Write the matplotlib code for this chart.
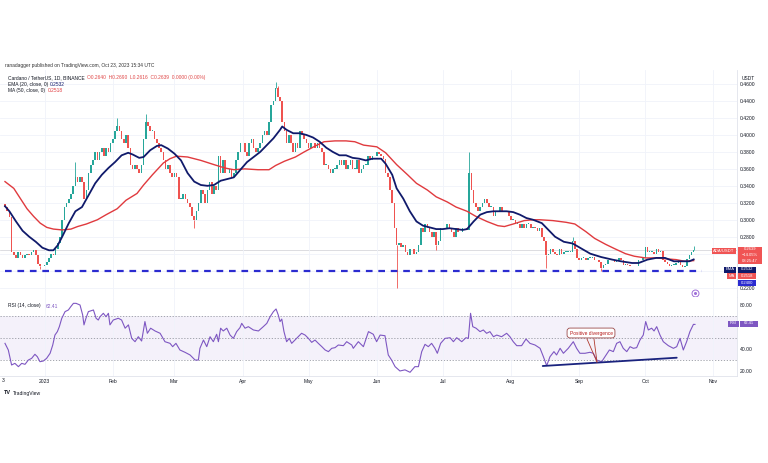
import numpy as np
import pandas as pd
import matplotlib
matplotlib.use("Agg")
import matplotlib.pyplot as plt
from matplotlib.patches import Rectangle
from matplotlib.lines import Line2D

plt.rcParams['font.family'] = ['Liberation Sans', 'DejaVu Sans']

# ---------------- data ----------------
start_date = "2022-12-14"
end_date = "2023-10-23"
first_open = 0.318

closes_dec = [0.315, 0.31, 0.303, 0.262, 0.258, 0.255, 0.262, 0.258, 0.255, 0.258,
              0.26, 0.258, 0.262, 0.264, 0.258, 0.248, 0.246, 0.245]
closes_jan = [0.247, 0.25, 0.255, 0.26, 0.258, 0.265, 0.272, 0.28, 0.30, 0.315,
              0.32, 0.325, 0.33, 0.34, 0.35, 0.345, 0.35, 0.345, 0.325, 0.335,
              0.355, 0.365, 0.37, 0.38, 0.37, 0.38, 0.385, 0.375, 0.385, 0.38, 0.39]
closes_feb = [0.395, 0.405, 0.41, 0.405, 0.395, 0.39, 0.40, 0.385, 0.365, 0.36,
              0.365, 0.36, 0.355, 0.365, 0.395, 0.415, 0.41, 0.405, 0.405, 0.395,
              0.39, 0.385, 0.38, 0.37, 0.36, 0.365, 0.355, 0.35]
closes_mar = [0.355, 0.35, 0.325, 0.325, 0.33, 0.325, 0.32, 0.315, 0.305, 0.30,
              0.31, 0.32, 0.335, 0.33, 0.32, 0.335, 0.345, 0.33, 0.34, 0.335,
              0.375, 0.355, 0.37, 0.355, 0.355, 0.36, 0.35, 0.355, 0.37, 0.38, 0.39]
closes_apr = [0.39, 0.38, 0.375, 0.39, 0.395, 0.385, 0.38, 0.385, 0.39, 0.40,
              0.405, 0.40, 0.415, 0.435, 0.44, 0.455, 0.445, 0.44, 0.415, 0.405,
              0.39, 0.40, 0.39, 0.38, 0.39, 0.385, 0.405, 0.40, 0.395, 0.39]
closes_may = [0.385, 0.39, 0.39, 0.385, 0.39, 0.385, 0.38, 0.365, 0.365, 0.36,
              0.355, 0.36, 0.36, 0.365, 0.37, 0.365, 0.37, 0.36, 0.365, 0.37,
              0.36, 0.36, 0.37, 0.355, 0.36, 0.365, 0.365, 0.375, 0.37, 0.375, 0.375]
closes_jun = [0.38, 0.378, 0.375, 0.372, 0.355, 0.35, 0.335, 0.32, 0.29, 0.27,
              0.272, 0.268, 0.27, 0.262, 0.258, 0.265, 0.265, 0.26, 0.262, 0.27,
              0.29, 0.285, 0.295, 0.29, 0.285, 0.28, 0.285, 0.27, 0.275, 0.29]
closes_jul = [0.29, 0.29, 0.295, 0.29, 0.285, 0.28, 0.29, 0.285, 0.285, 0.29,
              0.29, 0.288, 0.355, 0.335, 0.32, 0.315, 0.31, 0.315, 0.32, 0.325,
              0.32, 0.315, 0.315, 0.305, 0.31, 0.31, 0.315, 0.31, 0.31, 0.31, 0.305]
closes_aug = [0.30, 0.30, 0.295, 0.295, 0.29, 0.295, 0.29, 0.295, 0.295, 0.29,
              0.292, 0.29, 0.287, 0.29, 0.28, 0.275, 0.258, 0.26, 0.265, 0.262,
              0.26, 0.258, 0.265, 0.26, 0.262, 0.262, 0.262, 0.262, 0.275, 0.265, 0.255]
closes_sep = [0.252, 0.255, 0.255, 0.253, 0.255, 0.255, 0.256, 0.252, 0.252, 0.25,
              0.243, 0.247, 0.248, 0.252, 0.253, 0.252, 0.25, 0.253, 0.255, 0.253,
              0.247, 0.248, 0.247, 0.245, 0.246, 0.245, 0.246, 0.252, 0.253, 0.255]
closes_oct = [0.268, 0.262, 0.262, 0.262, 0.26, 0.265, 0.262, 0.263, 0.252, 0.25,
              0.248, 0.246, 0.247, 0.247, 0.249, 0.252, 0.247, 0.244, 0.246, 0.254,
              0.258, 0.262, 0.2639]

# notable wicks: date -> (high, low)
wicks = {
    "2022-12-30": (None, 0.242),
    "2023-01-15": (0.368, None),
    "2023-02-03": (0.42, None),
    "2023-02-16": (0.425, None),
    "2023-03-10": (None, 0.29),
    "2023-04-16": (0.462, None),
    "2023-04-17": (0.458, None),
    "2023-06-10": (None, 0.22),
    "2023-06-28": (None, 0.264),
    "2023-07-13": (0.38, None),
    "2023-08-17": (None, 0.243),
    "2023-08-29": (0.28, None),
    "2023-09-11": (None, 0.24),
    "2023-10-23": (0.269, 0.2616),
}

# EMA 20 readings (day offset from start, value)
ema_day = [0, 2, 5, 8, 11, 14, 17, 20, 22, 24, 26, 29, 32, 35, 38, 41, 44, 47, 50, 53,
           56, 58, 61, 63, 66, 69, 71, 74, 77, 80, 83, 86, 89, 92, 95, 98, 101, 104, 107, 110,
           113, 116, 119, 122, 125, 126, 128, 131, 134, 137, 140, 143, 146, 149, 152, 155, 158, 161, 164, 167,
           171, 173, 176, 178, 181, 184, 187, 190, 193, 196, 199, 202, 205, 208, 210, 213, 216, 219, 222, 225,
           228, 231, 234, 237, 240, 244, 247, 250, 254, 258, 262, 266, 271, 276, 280, 285, 288, 292, 296, 300,
           304, 309, 311, 313]
ema_val = [0.316, 0.31, 0.298, 0.287, 0.28, 0.274, 0.267, 0.264, 0.264, 0.27, 0.28, 0.296, 0.31, 0.315, 0.329, 0.343, 0.353, 0.361, 0.368, 0.376,
           0.379, 0.377, 0.373, 0.374, 0.382, 0.387, 0.388, 0.384, 0.378, 0.37, 0.355, 0.345, 0.341, 0.34, 0.341, 0.346, 0.348, 0.35, 0.359, 0.368,
           0.374, 0.38, 0.388, 0.396, 0.406, 0.41, 0.406, 0.402, 0.402, 0.40, 0.397, 0.392, 0.385, 0.38, 0.376, 0.376, 0.373, 0.372, 0.37, 0.372,
           0.372, 0.366, 0.353, 0.337, 0.325, 0.31, 0.298, 0.293, 0.291, 0.289, 0.289, 0.29, 0.289, 0.288, 0.289, 0.298, 0.306, 0.309, 0.31, 0.31,
           0.31, 0.309, 0.306, 0.302, 0.30, 0.296, 0.288, 0.28, 0.274, 0.272, 0.266, 0.26, 0.256, 0.253, 0.251, 0.249, 0.249, 0.253, 0.255, 0.255,
           0.251, 0.251, 0.251, 0.2532]

# MA 50 readings
ma_day = [0, 4, 7, 10, 13, 16, 19, 22, 26, 30, 33, 37, 42, 46, 51, 55, 60, 63, 67, 72,
          75, 78, 83, 89, 95, 100, 104, 109, 115, 120, 123, 127, 132, 136, 141, 145, 150, 155, 159, 163,
          169, 173, 178, 183, 187, 192, 196, 201, 205, 210, 214, 219, 224, 227, 231, 236, 240, 243, 249, 255,
          259, 264, 268, 273, 277, 282, 286, 291, 296, 300, 305, 309, 313]
ma_val = [0.345, 0.337, 0.325, 0.313, 0.304, 0.296, 0.291, 0.289, 0.288, 0.289, 0.292, 0.295, 0.30, 0.306, 0.313, 0.323, 0.331, 0.341, 0.353, 0.367,
          0.372, 0.375, 0.374, 0.37, 0.365, 0.361, 0.359, 0.36, 0.359, 0.359, 0.364, 0.369, 0.374, 0.38, 0.387, 0.392, 0.393, 0.393, 0.392, 0.388,
          0.386, 0.379, 0.365, 0.353, 0.343, 0.335, 0.327, 0.321, 0.315, 0.31, 0.304, 0.298, 0.293, 0.292, 0.295, 0.299, 0.30, 0.30, 0.299, 0.297,
          0.295, 0.286, 0.278, 0.271, 0.266, 0.26, 0.257, 0.255, 0.255, 0.254, 0.253, 0.251, 0.2518]

# RSI 14 readings (day offset, value)
rsi_day = [0.0, 1.5, 3.0, 4.5, 6.1, 7.6, 9.1, 10.6, 12.1, 13.6, 14.7, 15.9, 17.4, 18.9, 20.5, 21.7, 22.7, 23.8, 24.7, 25.8,
           27.3, 28.8, 29.9, 31.1, 32.3, 34.1, 35.3, 35.9, 36.8, 37.9, 40.2, 41.4, 42.4, 43.2, 44.7, 45.9, 47.0, 47.7, 49.2, 51.5,
           53.0, 54.6, 56.1, 57.6, 59.1, 60.6, 62.1, 63.6, 64.7, 66.2, 68.2, 70.5, 72.7, 75.0, 76.2, 77.7, 79.5, 81.8, 84.1, 86.4,
           87.9, 88.6, 90.2, 91.7, 93.2, 94.7, 96.2, 97.0, 98.0, 99.2, 100.8, 102.3, 103.8, 105.3, 106.8, 107.6, 109.1, 110.6, 112.9, 115.2,
           117.4, 119.0, 120.5, 122.0, 123.2, 124.2, 125.0, 125.8, 126.8, 128.0, 129.2, 130.3, 131.8, 133.3, 134.8, 136.4, 137.9, 139.4, 140.9, 142.4,
           144.0, 145.5, 147.0, 148.5, 150.0, 151.5, 153.8, 155.3, 157.6, 158.3, 160.6, 162.9, 165.2, 167.4, 168.9, 170.5, 172.7, 174.2, 175.7, 177.3,
           179.5, 181.8, 184.1, 186.3, 187.9, 189.4, 190.9, 192.4, 193.9, 195.4, 196.5, 198.0, 200.0, 202.3, 203.8, 205.3, 207.6, 209.5, 210.6, 211.6,
           212.6, 214.1, 215.9, 217.4, 218.9, 220.4, 222.0, 223.5, 225.7, 228.0, 229.5, 231.0, 232.6, 234.8, 236.8, 238.6, 240.9, 243.2, 244.7, 246.2,
           247.7, 249.5, 250.7, 252.3, 253.8, 256.0, 258.3, 259.8, 261.3, 263.6, 265.9, 267.4, 268.9, 271.2, 272.7, 274.7, 276.5, 278.0, 279.5, 281.0,
           282.6, 284.1, 285.6, 287.1, 288.6, 290.1, 291.2, 292.4, 293.9, 295.0, 296.2, 297.7, 299.2, 301.5, 303.8, 305.3, 306.8, 308.3, 309.8, 311.3,
           312.9, 313.6]
rsi_val = [45.3, 39.3, 25.7, 27.2, 24.2, 27.2, 26.3, 30.2, 31.7, 35.4, 33.2, 28.7, 29.3, 31.7, 36.3, 43.8, 52.8, 55.9, 60.4, 67.9,
           74.0, 75.5, 78.5, 81.5, 81.5, 80.0, 71.0, 62.0, 68.0, 74.0, 75.5, 68.0, 66.4, 69.4, 72.5, 69.4, 72.5, 62.0, 66.4, 68.0,
           66.4, 59.0, 62.0, 49.8, 46.8, 51.3, 47.4, 65.0, 54.4, 59.0, 56.5, 54.4, 46.8, 45.3, 42.3, 45.3, 39.3, 37.2, 34.8, 30.2,
           30.2, 40.8, 48.3, 42.3, 51.3, 46.8, 53.5, 46.8, 59.0, 56.5, 59.0, 52.8, 49.8, 55.9, 59.5, 63.4, 59.0, 60.4, 57.4, 56.5,
           60.4, 63.4, 69.4, 74.0, 76.4, 71.0, 65.0, 67.3, 55.9, 46.8, 49.8, 45.3, 48.3, 51.3, 54.4, 52.8, 49.8, 46.2, 48.3, 45.3,
           42.3, 39.3, 37.8, 40.8, 41.4, 43.8, 43.2, 46.8, 43.8, 40.8, 46.8, 42.3, 55.9, 53.5, 46.8, 52.8, 52.2, 34.8, 30.2, 24.2,
           20.3, 21.3, 19.1, 24.2, 24.2, 37.8, 44.4, 42.3, 45.3, 40.8, 36.3, 45.3, 49.8, 50.4, 46.8, 50.4, 46.8, 50.4, 49.8, 72.5,
           60.4, 59.0, 55.9, 57.4, 54.4, 55.9, 51.3, 52.8, 51.3, 54.4, 51.3, 46.8, 43.2, 43.2, 49.2, 45.3, 43.8, 40.8, 33.2, 25.1,
           33.2, 37.8, 34.8, 40.8, 36.3, 40.8, 46.8, 40.8, 36.3, 36.3, 37.2, 36.3, 30.2, 28.7, 33.2, 39.3, 37.8, 45.3, 46.8, 40.8,
           37.8, 42.3, 40.8, 41.4, 48.3, 52.8, 65.0, 57.4, 59.0, 56.5, 60.4, 52.8, 46.8, 43.2, 40.8, 42.3, 49.8, 39.3, 46.8, 55.9,
           62.5, 62.41]

divergence_day = [244.4, 305.3]
divergence_rsi = [24.8, 32.3]

month_starts = ["2023-01-01", "2023-02-01", "2023-03-01", "2023-04-01", "2023-05-01", "2023-06-01",
                "2023-07-01", "2023-08-01", "2023-09-01", "2023-10-01", "2023-11-01"]
month_labels = ["2023", "Feb", "Mar", "Apr", "May", "Jun", "Jul", "Aug", "Sep", "Oct", "Nov"]
price_ticks = [0.22, 0.24, 0.26, 0.28, 0.30, 0.32, 0.34, 0.36, 0.38, 0.40, 0.42, 0.44, 0.46]
hidden_price_ticks = [0.24, 0.26]      # covered by the value tags in the reference
rsi_ticks = [20, 40, 60, 80]
hidden_rsi_ticks = [60]
support_level = 0.24
last_price = 0.2639
ema_last = 0.2532
ma_last = 0.2518
rsi_last = 62.41

# ---------------- figure ----------------
W, H = 768, 463
fig = plt.figure(figsize=(W / 100, H / 100), dpi=100)
fig.patch.set_facecolor("white")

def fx(px):
    return px / W

def fy(py):
    return 1 - py / H

PANE_R = 737
ax1 = fig.add_axes([0, fy(297), PANE_R / W, (297 - 70) / H])
ax2 = fig.add_axes([0, fy(376), PANE_R / W, (376 - 297) / H], sharex=ax1)

start = pd.Timestamp(start_date)
closes = np.array(closes_dec + closes_jan + closes_feb + closes_mar + closes_apr + closes_may +
                  closes_jun + closes_jul + closes_aug + closes_sep + closes_oct)
n = len(closes)
xs = np.arange(n)
opens = np.concatenate([[first_open], closes[:-1]])

UP, DN = "#26a69a", "#ef5350"
cols = [UP if c >= o else DN for o, c in zip(opens, closes)]
bottoms = np.minimum(opens, closes)
heights = np.maximum(np.abs(closes - opens), 0.0007)

for dstr, (hi, lo) in wicks.items():
    i = (pd.Timestamp(dstr) - start).days
    top = max(opens[i], closes[i])
    bot = min(opens[i], closes[i])
    if hi is not None:
        ax1.vlines(i, top, hi, color=cols[i], lw=0.6, zorder=3)
    if lo is not None:
        ax1.vlines(i, lo, bot, color=cols[i], lw=0.6, zorder=3)

ax1.bar(xs, heights, bottom=bottoms, width=0.68, color=cols, linewidth=0, zorder=3)

ax1.plot(ma_day, ma_val, color="#e03a3e", lw=1.0, zorder=4)
ax1.plot(ema_day, ema_val, color="#101a6b", lw=1.3, zorder=5)

ax1.axhline(last_price, color="#cfcfd4", lw=0.5, zorder=1)
ax1.plot([0, 317], [support_level, support_level], color="#2b2bd0", lw=1.6,
         linestyle=(0, (3.0, 2.6)), zorder=6)

# event icon (layout position near the bottom right of the price pane)
ax1.plot([313.6], [0.2136], marker="o", ms=5, mfc="white", mec="#a070d8", mew=0.7, zorder=7)
ax1.plot([313.6], [0.2136], marker="o", ms=1.2, mfc="#a070d8", mec="#a070d8", zorder=8)

month_pos = [(pd.Timestamp(m) - start).days for m in month_starts]

ax1.set_xlim(-2.27, 332.7)
ax1.set_ylim(0.2089, 0.4766)
ax1.set_yticks(price_ticks)
ax1.set_yticklabels(["" if any(abs(t - h) < 1e-9 for h in hidden_price_ticks) else f"{t:.4f}"
                     for t in price_ticks])
ax1.yaxis.tick_right()
ax1.tick_params(axis="y", length=0, pad=2.3, labelsize=3.6, labelcolor="#131722")
ax1.set_xticks(month_pos)
ax1.tick_params(axis="x", length=0, labelbottom=False)
ax1.grid(True, color="#f0f3fa", lw=0.6, zorder=0)
for s in ["top", "left"]:
    ax1.spines[s].set_visible(False)
for s in ["right", "bottom"]:
    ax1.spines[s].set_color("#e0e3eb")
    ax1.spines[s].set_linewidth(0.6)

# RSI pane
ax2.axhspan(30, 70, color="#7e57c2", alpha=0.08, lw=0, zorder=0)
for lv in (70, 50, 30):
    ax2.axhline(lv, color="#9598a1", lw=0.6, linestyle=(0, (1.5, 2)), zorder=1)
ax2.plot(rsi_day, rsi_val, color="#7e57c2", lw=0.8, zorder=3)
ax2.plot(divergence_day, divergence_rsi, color="#1a237e", lw=1.3, zorder=4, solid_capstyle="round")
ax2.set_ylim(15.75, 87.24)
ax2.set_yticks(rsi_ticks)
ax2.set_yticklabels(["" if t in hidden_rsi_ticks else f"{t:.2f}" for t in rsi_ticks])
ax2.yaxis.tick_right()
ax2.tick_params(axis="y", length=0, pad=2.3, labelsize=3.6, labelcolor="#131722")
ax2.set_xticks(month_pos)
ax2.set_xticklabels(month_labels)
ax2.tick_params(axis="x", length=0, pad=2.5, labelsize=3.6, labelcolor="#131722")
ax2.grid(True, axis="x", color="#f0f3fa", lw=0.6, zorder=0)
for s in ["top", "left"]:
    ax2.spines[s].set_visible(False)
for s in ["right", "bottom"]:
    ax2.spines[s].set_color("#e0e3eb")
    ax2.spines[s].set_linewidth(0.6)

# callout in RSI pane (layout in pixels)
fig.add_artist(Line2D([fx(587), fx(597)], [fy(339), fy(362)], color="#b03a2e", lw=0.6))
fig.add_artist(Line2D([fx(594), fx(597)], [fy(339), fy(362)], color="#b03a2e", lw=0.6))
fig.text(fx(591), fy(333), "Positive divergence", fontsize=3.5, color="#b71c1c",
         ha="center", va="center",
         bbox=dict(boxstyle="round,pad=0.5,rounding_size=0.6", fc="white", ec="#9a4a4a", lw=0.6))

# ---------------- texts ----------------
fig.text(fx(5), fy(66), "ranadagger published on TradingView.com, Oct 23, 2023 15:34 UTC",
         fontsize=3.5, color="#333333", va="center")
fig.text(fx(8), fy(78), "Cardano / TetherUS, 1D, BINANCE", fontsize=3.5, color="#131722", va="center")
fig.text(fx(87), fy(78), "O0.2640  H0.2690  L0.2616  C0.2639  0.0000 (0.00%)",
         fontsize=3.5, color="#e04848", va="center")
fig.text(fx(8), fy(84.5), "EMA (20, close, 0)", fontsize=3.5, color="#131722", va="center")
fig.text(fx(50), fy(84.5), f"{ema_last:.4f}", fontsize=3.5, color="#101a6b", va="center")
fig.text(fx(8), fy(90.5), "MA (50, close, 0)", fontsize=3.5, color="#131722", va="center")
fig.text(fx(48), fy(90.5), f"{ma_last:.4f}", fontsize=3.5, color="#e03a3e", va="center")
fig.text(fx(8), fy(306), "RSI (14, close)", fontsize=3.5, color="#131722", va="center")
fig.text(fx(46), fy(306), f"{rsi_last:.2f}", fontsize=3.5, color="#7e57c2", va="center")
fig.text(fx(748), fy(78), "USDT", fontsize=3.5, color="#131722", va="center", ha="center")
fig.text(fx(3), fy(381), "3", fontsize=3.6, color="#131722", va="center", ha="center")
fig.text(fx(4), fy(393), "TV", fontsize=4, color="#131722", va="center", weight="bold")
fig.text(fx(13), fy(393), "TradingView", fontsize=3.6, color="#131722", va="center")

def box(x0, x1, y0, y1, color, lines, fs=3.0):
    fig.add_artist(Rectangle((fx(x0), fy(y1)), (x1 - x0) / W, (y1 - y0) / H,
                             transform=fig.transFigure, fc=color, ec=color, lw=0, zorder=10))
    k = len(lines)
    for j, t in enumerate(lines):
        yc = y0 + (y1 - y0) * (j + 0.5) / k
        fig.text(fx((x0 + x1) / 2), fy(yc), t, fontsize=fs, color="white",
                 ha="center", va="center", zorder=11)

RED = "#f05454"
box(712, 736, 247.5, 254, RED, ["ADA/USDT"])
box(738, 762, 246.5, 264, RED, [f"{last_price:.4f}", "\u221214.05%", "08:25:47"])
box(724, 736, 266.5, 272.5, "#101a6b", ["EMA"])
box(738, 756, 266.5, 272.5, "#101a6b", [f"{ema_last:.4f}"])
box(727, 736, 273.3, 279.3, RED, ["MA"])
box(738, 756, 273.3, 279.3, RED, [f"{ma_last:.4f}"])
box(738, 756, 280, 286, "#2b2bd0", [f"{support_level:.4f}"])
box(728, 739, 320.5, 326.5, "#7e57c2", ["RSI"])
box(740, 758, 320.5, 326.5, "#7e57c2", [f"{rsi_last:.2f}"])

fig.savefig("out.png", dpi=100, facecolor="white")
